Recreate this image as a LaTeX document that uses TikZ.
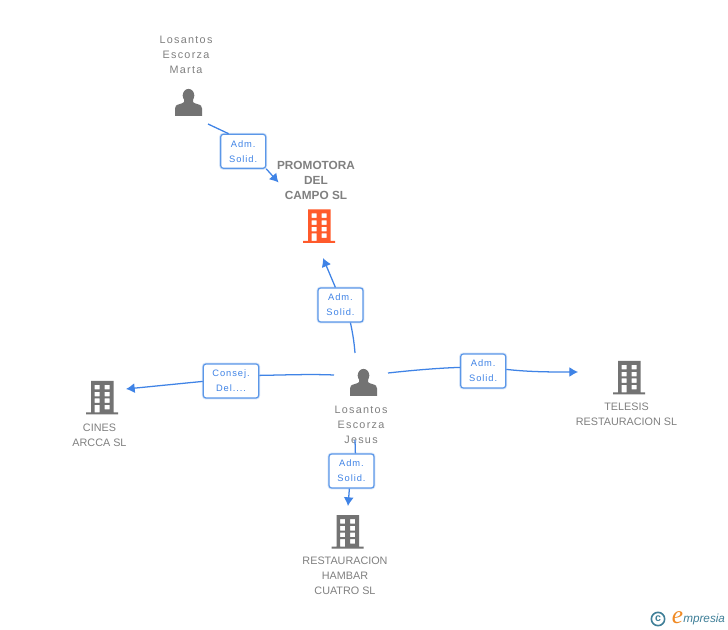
\documentclass[tikz,border=0pt]{standalone}
\usepackage{fontspec}
\setmainfont{Liberation Sans}
\newfontfamily\spaced[LetterSpace=12]{Liberation Sans}
\newfontfamily\boxfont[LetterSpace=10]{Liberation Sans}
\usetikzlibrary{arrows.meta,calc}
\definecolor{greytext}{HTML}{808080}
\definecolor{icongrey}{HTML}{737373}
\definecolor{iconred}{HTML}{FF5A2B}
\definecolor{linkblue}{HTML}{3F83E6}
\definecolor{boxblue}{HTML}{5B97E8}
\definecolor{boxglow}{HTML}{D5E4F8}
\definecolor{logoteal}{HTML}{3F7F98}
\definecolor{logoorange}{HTML}{F08A24}
\tikzset{
  x=0.75pt,y=-0.75pt,
  lab/.style={align=center,text=greytext,font=\spaced\fontsize{8.1pt}{11.25pt}\selectfont,inner sep=0pt},
  orglab/.style={align=center,text=greytext,font=\fontsize{8.1pt}{11.25pt}\selectfont,inner sep=0pt},
  titlelab/.style={align=center,text=greytext,font=\bfseries\fontsize{8.85pt}{11.25pt}\selectfont,inner sep=0pt},
  rolebox/.style={draw=boxblue,line width=0.9pt,rounded corners=2pt,fill=white,inner sep=0pt,align=center,
    preaction={draw=boxglow,line width=2.2pt},
    text=linkblue,font=\boxfont\fontsize{7pt}{11.25pt}\selectfont},
  link/.style={draw=linkblue,line width=0.95pt},
  tiplink/.style={link,-{Latex[length=6.5pt,width=7.5pt]}},
  iconspot/.style={inner sep=0pt,minimum size=1pt},
  person/.pic={
    \fill[icongrey] (0,-7) ellipse (5.8 and 6.6);
    \fill[icongrey] (-4.5,-4) -- (-4.5,-.5)
      .. controls (-5,.5) and (-6.5,.8) .. (-9,1.6) .. controls (-12.5,2.6) and (-13.5,3.6) .. (-13.5,6) -- (-13.5,13.5)
      -- (13.5,13.5) -- (13.5,6) .. controls (13.5,3.6) and (12.5,2.6) .. (9,1.6) .. controls (6.5,.8) and (5,.5) .. (4.5,-.5)
      -- (4.5,-4) -- cycle;
  },
  pics/building/.style={code={
    \fill[#1,even odd rule] (-16,15) rectangle (16,17)
      (-11,-16.5) rectangle (11.5,15)
      (-7.3,-12.5) rectangle (-2.3,-8) (2.7,-12.5) rectangle (7.7,-8)
      (-7.3,-5.7) rectangle (-2.3,-1) (2.7,-5.7) rectangle (7.7,-1)
      (-7.3,1) rectangle (-2.3,5.5) (2.7,1) rectangle (7.7,5.5)
      (-7.3,7.5) rectangle (-2.3,15) (2.7,7.5) rectangle (7.7,12);
  }}
}
\begin{document}
\begin{tikzpicture}
\useasboundingbox (0,0) rectangle (728,630);
\fill[white] (0,0) rectangle (728,630);

% icons
\node[iconspot] (marta) at (188.5,102.5) {};
\pic at (marta) {person};
\node[iconspot] (jesus) at (363.5,382.5) {};
\pic at (jesus) {person};
\node[iconspot] (promotora) at (319,226) {};
\pic at (promotora) {building=iconred};
\node[iconspot] (cines) at (102,397.5) {};
\pic at (cines) {building=icongrey};
\node[iconspot] (telesis) at (629,377.5) {};
\pic at (telesis) {building=icongrey};
\node[iconspot] (hambar) at (347.5,531.5) {};
\pic at (hambar) {building=icongrey};

% labels
\node[lab] (martalab) at (186,55) {Losantos\\Escorza\\Marta};
\node[titlelab] (promlab) at (316,180) {PROMOTORA\\DEL\\CAMPO SL};
\node[lab] (jesuslab) at (361,425) {Losantos\\Escorza\\Jesus};
\node[orglab] (cineslab) at (99.5,435) {CINES\\ARCCA SL};
\node[orglab] (telesislab) at (626.5,414.5) {TELESIS\\RESTAURACION SL};
\node[orglab] (hambarlab) at (345,576) {RESTAURACION\\HAMBAR\\CUATRO SL};

% free connector ends
\coordinate (a1) at (208,124);
\coordinate (a2) at (278.5,182.5);
\coordinate (b1) at (355,353);
\coordinate (b2) at (323,258);
\coordinate (c1) at (334,375);
\coordinate (c2) at (126,389);
\coordinate (d1) at (388,373);
\coordinate (d2) at (578,372);
\coordinate (e1) at (355,440);
\coordinate (e2) at (348,506);

% role boxes
\node[rolebox,minimum width=33.75pt,minimum height=25.5pt] (r1) at (243.2,151.3) {Adm.\\Solid.};
\node[rolebox,minimum width=33.75pt,minimum height=25.5pt] (r2) at (340.5,305) {Adm.\\Solid.};
\node[rolebox,minimum width=41.5pt,minimum height=25.5pt] (r3) at (231,381) {Consej.\\Del....};
\node[rolebox,minimum width=33.75pt,minimum height=25.5pt] (r4) at (483.2,371) {Adm.\\Solid.};
\node[rolebox,minimum width=33.75pt,minimum height=25.5pt] (r5) at (351.5,471) {Adm.\\Solid.};

% connectors
\draw[link] (a1) -- ($(r1.north west)+(8.5,0)$);
\draw[tiplink] (r1.south east) -- (a2);
\draw[link] (b1) .. controls (354,340) and (352,330) .. ($(r2.south west)+(33,0)$);
\draw[tiplink] ($(r2.north west)+(18,0)$) -- (b2);
\draw[link] (c1) .. controls (310,374) and (285,375) .. ($(r3.north east)+(0,12)$);
\draw[tiplink] ($(r3.north west)+(0,18)$) -- (c2);
\draw[link] (d1) .. controls (415,370) and (440,368) .. ($(r4.north west)+(0,14)$);
\draw[tiplink] ($(r4.north east)+(0,16)$) .. controls (530,372) and (550,372) .. (d2);
\draw[link] (e1) -- ($(r5.north west)+(27,0)$);
\draw[tiplink] ($(r5.south west)+(21,0)$) -- (e2);

% logo
\node[circle,draw=logoteal,line width=1.2pt,minimum size=10pt,inner sep=0pt,text=logoteal,font=\bfseries\fontsize{8pt}{8pt}\selectfont] (copy) at (658,619) {c};
\node[inner sep=0pt,text=logoorange,font=\fontspec{Liberation Serif}\itshape\fontsize{19pt}{19pt}\selectfont] (elogo) at (677.5,617.5) {e};
\node[inner sep=0pt,anchor=west,text=logoteal,font=\itshape\fontsize{8.8pt}{8.8pt}\selectfont] (mpresia) at (683,619.5) {mpresia};
\end{tikzpicture}
\end{document}
